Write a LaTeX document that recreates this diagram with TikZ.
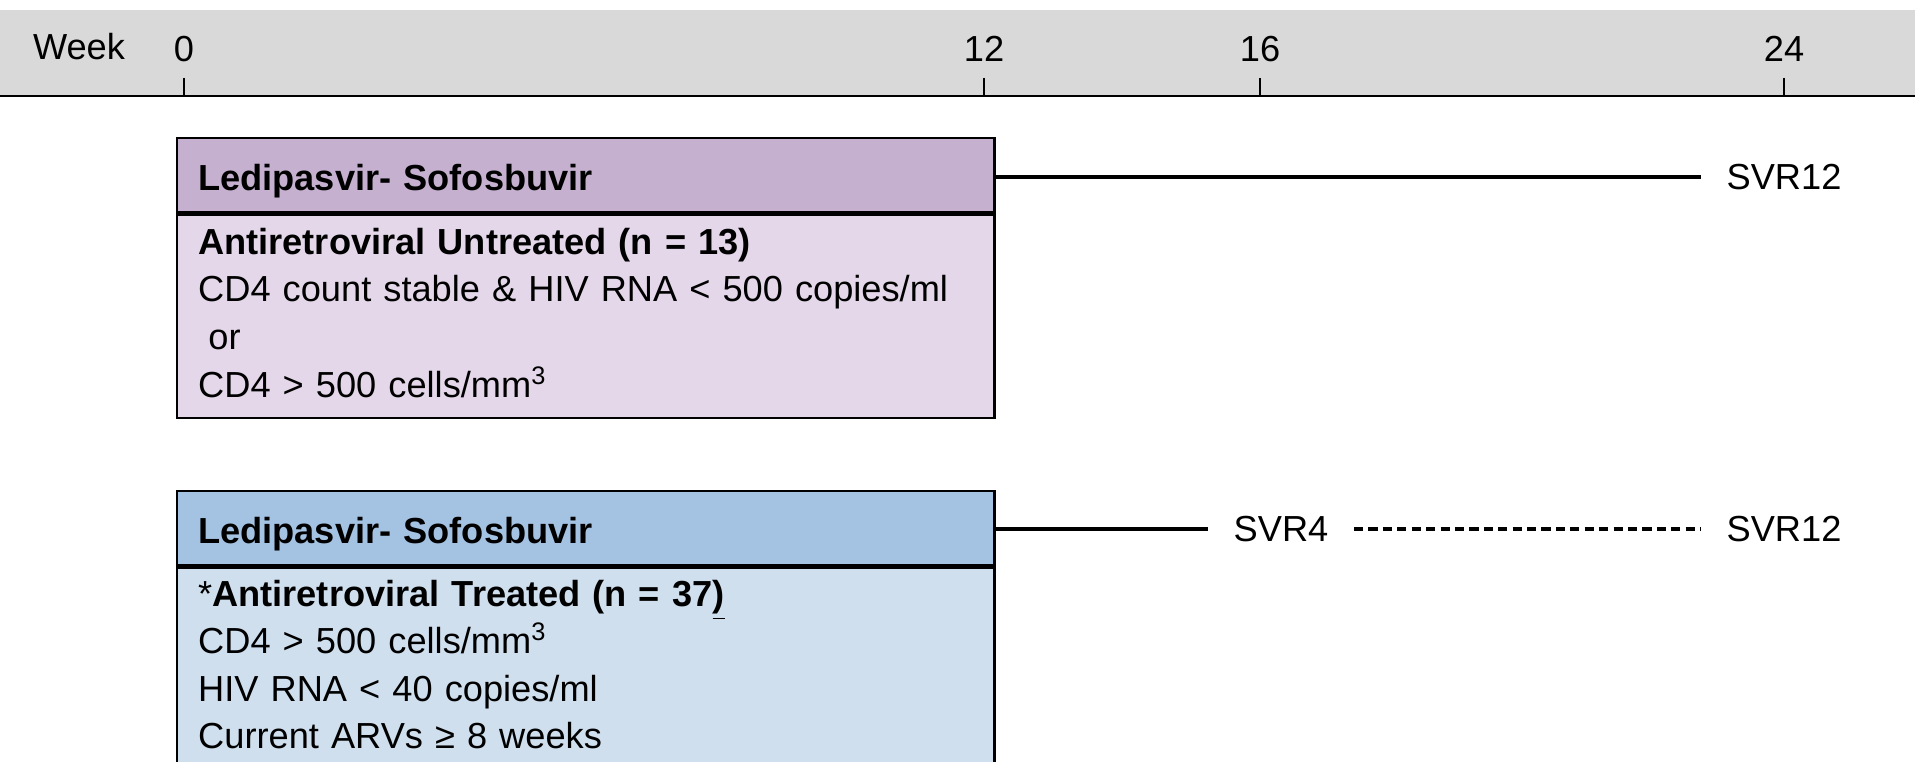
\documentclass[tikz,border=0pt]{standalone}
\usepackage{fontspec}
\setmainfont{Liberation Sans}
\definecolor{band}{HTML}{D9D9D9}
\definecolor{hdrA}{HTML}{C5B0CF}
\definecolor{bodyA}{HTML}{E4D7E9}
\definecolor{hdrB}{HTML}{A4C2E1}
\definecolor{bodyB}{HTML}{CFDFEE}
\newcommand{\lowstrut}[1]{\rule[-#1]{0pt}{0pt}}
\tikzset{
  boxline/.style={draw=black, line width=0.7pt},
  hdrbox/.style={boxline, anchor=north west, inner xsep=0.21cm, inner ysep=0pt,
    text width=7.75cm, text height=0.52cm, text depth=0.22cm, align=left,
    font=\fontsize{10.3}{13.55}\selectfont\bfseries},
  bodybox/.style={boxline, anchor=north west, inner xsep=0.21cm, inner ysep=0pt,
    text width=7.75cm, minimum height=2.03cm, align=left},
  weeklbl/.style={inner sep=0pt},
  svrlbl/.style={inner xsep=0.25cm, inner ysep=0pt},
  solidconn/.style={line width=1.1pt},
  dashconn/.style={line width=1.0pt, dash pattern=on 2.6pt off 1.5pt},
  tick/.style={line width=0.4pt}
}
\begin{document}
\begin{tikzpicture}[x=0.01cm, y=-0.01cm, font=\fontsize{10.3}{13.55}\selectfont]
\useasboundingbox (0,0) rectangle (1915,762);
\clip (0,0) rectangle (1915,762);
% timeline band
\fill[band] (0,10) rectangle (1915,96);
\draw[line width=0.7pt] (0,96) -- (1915,96);
\node[weeklbl] (week) at (79,47) {Week};
\node[weeklbl] (w0) at (184,49) {0};
\node[weeklbl] (w12) at (984,49) {12};
\node[weeklbl] (w16) at (1260,49) {16};
\node[weeklbl] (w24) at (1784,49) {24};
\foreach \n in {w0,w12,w16,w24}{
  \draw[tick] (\n |- 0,78) -- (\n |- 0,96);
}
% arm 1
\node[hdrbox, fill=hdrA] (h1) at (176,137) {Ledipasvir- Sofosbuvir};
\node[bodybox, fill=bodyA] (b1) at (h1.south west) {\textbf{Antiretroviral Untreated (n = 13)}\\
CD4 count stable \& HIV RNA < 500 copies/ml\\
\hspace*{0.28em}or\\
CD4 > 500 cells/mm\textsuperscript{3}\lowstrut{2.1pt}};
% arm 2
\node[hdrbox, fill=hdrB] (h2) at (176,490) {Ledipasvir- Sofosbuvir};
\node[bodybox, fill=bodyB] (b2) at (h2.south west) {*\textbf{Antiretroviral Treated (n = 37\underline{)}}\\
CD4 > 500 cells/mm\textsuperscript{3}\\
HIV RNA < 40 copies/ml\\
Current ARVs ≥ 8 weeks\lowstrut{2.8pt}};
% outcome labels
\node[svrlbl] (svrA) at (w24 |- 0,177) {SVR12};
\node[svrlbl] (svr4) at (1281,529) {SVR4};
\node[svrlbl] (svrB) at (w24 |- svr4) {SVR12};
% connectors
\draw[solidconn] (h1.east |- svrA) -- (svrA.west);
\draw[solidconn] (h2.east |- svr4) -- (svr4.west);
\draw[dashconn] (svr4.east) -- (svrB.west);
\end{tikzpicture}
\end{document}
